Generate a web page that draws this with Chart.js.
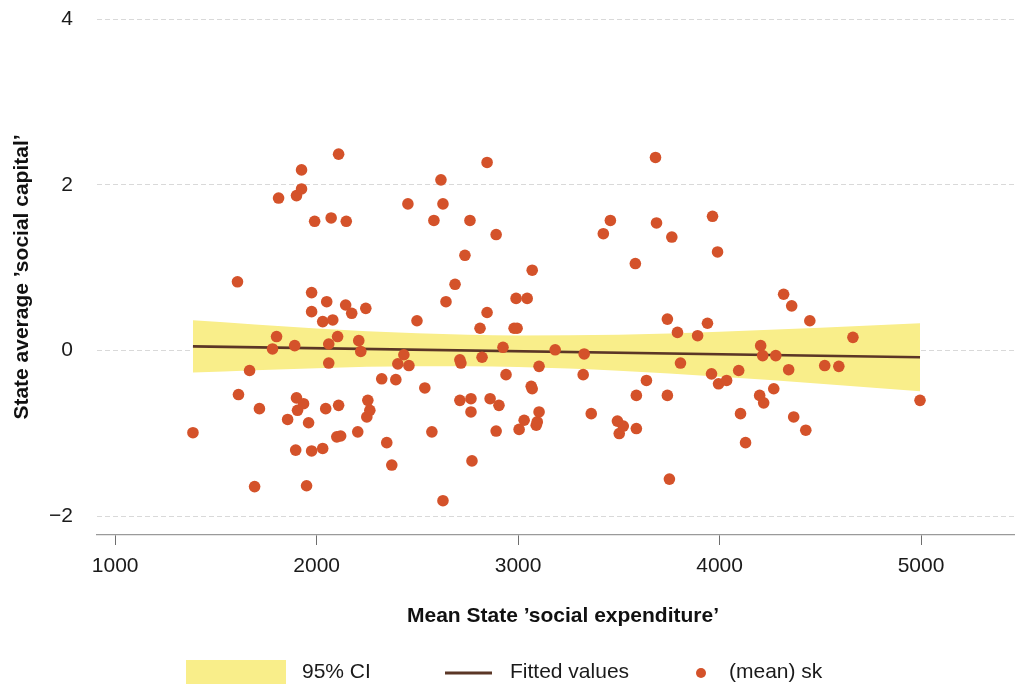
<!DOCTYPE html>
<html>
<head>
<meta charset="utf-8">
<script src="https://cdn.jsdelivr.net/npm/chart.js@4/dist/chart.umd.min.js"></script>
<style>
  html, body { margin: 0; padding: 0; background: #ffffff; overflow: hidden; }
  #wrap { width: 1029px; height: 684px; }
</style>
</head>
<body>
<div id="wrap"><canvas id="chart" width="1029" height="684"></canvas></div>
<script>
// Mean state social expenditure (x) and state average social capital (y)
const spendMean = [1386,1607,1612,1667,1692,1716,1781,1801,1811,1856,1891,1896,1900,1900,1905,1925,1925,1935,1950,1960,
  1975,1975,1975,1990,2030,2030,2045,2050,2060,2060,2072,2080,2104,2109,2109,2100,2119,2144,2147,2174,
  2204,2209,2219,2244,2249,2254,2264,2323,2348,2373,2393,2403,2433,2453,2458,2498,2537,2572,2582,2617,
  2627,2627,2642,2687,2711,2711,2716,2736,2761,2766,2766,2771,2811,2821,2846,2846,2861,2891,2891,2905,
  2925,2940,2980,2995,2990,3005,3030,3045,3065,3070,3070,3090,3095,3104,3104,3184,3323,3328,3363,3423,
  3458,3493,3502,3522,3582,3587,3587,3637,3682,3687,3741,3741,3751,3763,3791,3806,3891,3940,3960,3965,
  3990,3995,4035,4095,4104,4129,4199,4204,4214,4219,4269,4279,4318,4343,4358,4368,4428,4448,4522,4592,
  4662,4995];
const capitalMean = [-0.99,0.83,-0.53,-0.24,-1.64,-0.70,0.02,0.17,1.84,-0.83,0.06,-1.20,1.87,-0.57,-0.72,2.18,1.95,-0.64,-1.63,-0.87,
  0.70,0.47,-1.21,1.56,0.35,-1.18,-0.70,0.59,0.08,-0.15,1.60,0.37,0.17,-0.66,2.37,-1.04,-1.03,0.55,1.56,0.45,
  -0.98,0.12,-0.01,0.51,-0.80,-0.60,-0.72,-0.34,-1.11,-1.38,-0.35,-0.16,-0.05,1.77,-0.18,0.36,-0.45,-0.98,1.57,2.06,
  1.77,-1.81,0.59,0.80,-0.11,-0.60,-0.15,1.15,1.57,-0.58,-0.74,-1.33,0.27,-0.08,2.27,0.46,-0.58,1.40,-0.97,-0.66,
  0.04,-0.29,0.27,0.27,0.63,-0.95,-0.84,0.63,-0.43,-0.46,0.97,-0.90,-0.86,-0.19,-0.74,0.01,-0.29,-0.04,-0.76,1.41,
  1.57,-0.85,-1.00,-0.91,1.05,-0.54,-0.94,-0.36,2.33,1.54,0.38,-0.54,-1.55,1.37,0.22,-0.15,0.18,0.33,-0.28,1.62,
  1.19,-0.40,-0.36,-0.24,-0.76,-1.11,-0.54,0.06,-0.06,-0.63,-0.46,-0.06,0.68,-0.23,0.54,-0.80,-0.96,0.36,-0.18,-0.19,
  0.16,-0.60];

// Linear fit and its 95% confidence band
const fitX = [1386, 4995];
const fitY = [0.05, -0.08];
const ciX  = [1386, 2000, 2500, 3000, 3500, 4000, 4500, 4995];
const ciHi = [0.365, 0.268, 0.210, 0.183, 0.192, 0.227, 0.275, 0.330];
const ciLo = [-0.265, -0.212, -0.190, -0.199, -0.244, -0.315, -0.399, -0.490];

// Axis ticks
const xTicks = [1000, 2000, 3000, 4000, 5000];
const yTicks = [-2, 0, 2, 4];

const legendLabels = ['95% CI', 'Fitted values', '(mean) sk'];

const COL_CI = '#f9ee8a';
const COL_FIT = '#5b3626';
const COL_PT = '#d4522a';
const FONT = '"Liberation Sans", Arial, Helvetica, sans-serif';

const pairs = (xs, ys) => xs.map((x, i) => ({ x: x, y: ys[i] }));

// Legend row under the axis title
const bottomLegend = {
  id: 'bottomLegend',
  afterDraw(chart) {
    const ctx = chart.ctx;
    const cy = 672;
    ctx.save();
    ctx.font = '21px ' + FONT;
    ctx.textBaseline = 'middle';
    ctx.textAlign = 'left';
    // 95% CI swatch
    ctx.fillStyle = COL_CI;
    ctx.fillRect(186, 660, 100, 24);
    ctx.fillStyle = '#1a1a1a';
    ctx.fillText(legendLabels[0], 302, cy);
    // fitted line sample
    ctx.strokeStyle = COL_FIT;
    ctx.lineWidth = 3;
    ctx.beginPath();
    ctx.moveTo(445, 673);
    ctx.lineTo(492, 673);
    ctx.stroke();
    ctx.fillText(legendLabels[1], 510, cy);
    // marker sample
    ctx.fillStyle = COL_PT;
    ctx.beginPath();
    ctx.arc(701, 673, 5, 0, Math.PI * 2);
    ctx.fill();
    ctx.fillStyle = '#1a1a1a';
    ctx.fillText(legendLabels[2], 729, cy);
    ctx.restore();
  }
};

new Chart(document.getElementById('chart'), {
  type: 'scatter',
  data: {
    datasets: [
      {
        label: legendLabels[2],
        data: pairs(spendMean, capitalMean),
        backgroundColor: COL_PT,
        pointRadius: 5.8,
        pointBorderWidth: 0,
        pointHoverRadius: 5.8,
        order: 0
      },
      {
        type: 'line',
        label: legendLabels[1],
        data: pairs(fitX, fitY),
        borderColor: COL_FIT,
        borderWidth: 2.7,
        pointRadius: 0,
        fill: false,
        order: 1
      },
      {
        type: 'line',
        label: legendLabels[0],
        data: pairs(ciX, ciHi),
        borderWidth: 0,
        borderColor: 'rgba(0,0,0,0)',
        backgroundColor: COL_CI,
        pointRadius: 0,
        cubicInterpolationMode: 'monotone',
        fill: '+1',
        order: 2
      },
      {
        type: 'line',
        label: 'ci-low',
        data: pairs(ciX, ciLo),
        borderWidth: 0,
        borderColor: 'rgba(0,0,0,0)',
        pointRadius: 0,
        cubicInterpolationMode: 'monotone',
        fill: false,
        order: 3
      }
    ]
  },
  options: {
    responsive: false,
    animation: false,
    devicePixelRatio: 1,
    layout: { autoPadding: false, padding: { top: 19, left: 0, right: 0, bottom: 0 } },
    plugins: {
      legend: { display: false },
      tooltip: { enabled: false }
    },
    scales: {
      x: {
        type: 'linear',
        min: 909.7,
        max: 5536,
        afterBuildTicks: s => { s.ticks = xTicks.map(v => ({ value: v })); },
        afterFit: s => { s.height = 149; s.paddingLeft = 0; s.paddingRight = 0; },
        grid: { drawOnChartArea: false, drawTicks: true, tickLength: 10, color: '#6e6e6e', lineWidth: 1 },
        border: { display: true, color: '#9a9a9a', width: 1.3 },
        ticks: {
          padding: 9,
          color: '#1a1a1a',
          font: { family: FONT, size: 21 },
          maxRotation: 0,
          callback: v => String(v)
        },
        title: {
          display: true,
          text: 'Mean State ’social expenditure’',
          color: '#111111',
          font: { family: FONT, size: 21, weight: 'bold' },
          padding: { top: 0, bottom: 55 }
        }
      },
      y: {
        type: 'linear',
        min: -2.224,
        max: 4,
        afterBuildTicks: s => { s.ticks = yTicks.map(v => ({ value: v })); },
        afterFit: s => { s.width = 97; s.paddingTop = 0; s.paddingBottom = 0; },
        grid: { drawTicks: false, color: '#d9d9d9', lineWidth: 1 },
        border: { display: false, dash: [5, 3] },
        ticks: {
          padding: 24,
          color: '#1a1a1a',
          font: { family: FONT, size: 21 },
          callback: v => (v < 0 ? '\u2212' + Math.abs(v) : String(v))
        },
        title: {
          display: true,
          text: 'State average ’social capital’',
          color: '#111111',
          font: { family: FONT, size: 21, weight: 'bold' },
          padding: { top: 10, bottom: 0 }
        }
      }
    }
  },
  plugins: [bottomLegend]
});
</script>
</body>
</html>
